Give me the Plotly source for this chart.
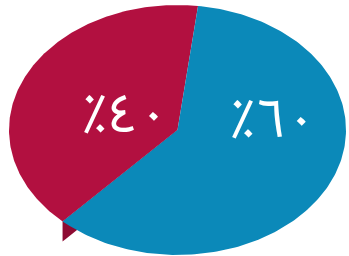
import numpy as np
import plotly.graph_objects as go

# ---- data ----
categories = ["أزرق", "أحمر"]
values = [60, 40]
labels = ["٪٦٠", "٪٤٠"]

# ---- style / layout constants ----
colors = ["#0B89B9", "#B21040"]
side_color = "#8E0B33"
W, H = 349, 256
CX, CY, RX, RY = 177.5, 130.0, 168.5, 125.0   # ellipse in pixels
DEPTH = 20.0 / RY                               # extrusion depth (units)
START_DEG = 7.0                                 # first slice start, clockwise from 12 o'clock
label_pos = [(0.567, 0.055), (-0.31, 0.09)]     # label anchors in ellipse units
FONT = "Noto Sans Arabic, Noto Naskh Arabic, Noto Sans"

def pt(theta_deg, r=1.0):
    t = np.radians(theta_deg)
    return r * np.sin(t), r * np.cos(t)

fig = go.Figure()

total = float(sum(values))
bounds = []
a = START_DEG
for v in values:
    b = a + 360.0 * v / total
    bounds.append((a, b))
    a = b

edge_angle = bounds[1][0]
ex, ey = pt(edge_angle)
fig.add_trace(go.Scatter(
    x=[0, ex, ex, 0, 0], y=[0, ey, ey - DEPTH, -DEPTH, 0],
    mode="lines", fill="toself", fillcolor=side_color,
    line=dict(width=0, color=side_color), hoverinfo="skip", showlegend=False))

order = [1, 0]
for i in order:
    a, b = bounds[i]
    th = np.linspace(a, b, 200)
    xs, ys = pt(th)
    x = np.concatenate([[0], xs, [0]])
    y = np.concatenate([[0], ys, [0]])
    fig.add_trace(go.Scatter(
        x=x, y=y, mode="lines", fill="toself", fillcolor=colors[i],
        line=dict(width=0, color=colors[i]), name=categories[i],
        hoverinfo="name", showlegend=False))

for i, lab in enumerate(labels):
    fig.add_trace(go.Scatter(
        x=[label_pos[i][0]], y=[label_pos[i][1]], mode="text", text=[lab],
        textfont=dict(family=FONT, size=54, color="white"),
        textposition="middle center", hoverinfo="skip", showlegend=False))

fig.update_layout(
    width=W, height=H, margin=dict(l=0, r=0, t=0, b=0),
    paper_bgcolor="white", plot_bgcolor="white",
    xaxis=dict(range=[-CX / RX, (W - CX) / RX], visible=False, fixedrange=True),
    yaxis=dict(range=[-(H - CY) / RY, CY / RY], visible=False, fixedrange=True),
)

fig.write_html("out.html", config={"displayModeBar": False},
               post_script="document.body.style.margin='0';document.body.style.overflow='hidden';")
